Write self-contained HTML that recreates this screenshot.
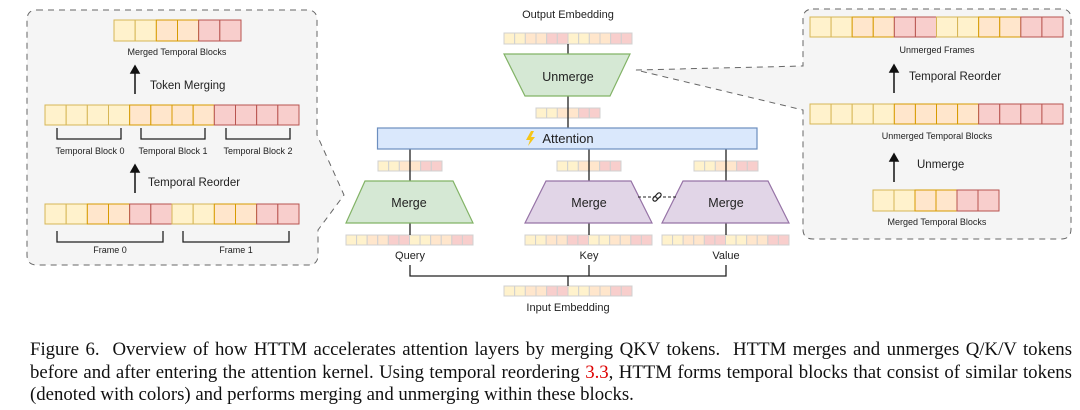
<!DOCTYPE html>
<html><head><meta charset="utf-8">
<style>
html,body{margin:0;padding:0;background:#fff;width:1080px;height:410px;overflow:hidden}
svg{position:absolute;left:0;top:0}
svg text{font-family:"Liberation Sans",sans-serif;fill:#222}
.cap{position:absolute;left:30px;top:339px;width:1042px;font-family:"Liberation Serif",serif;font-size:18.8px;line-height:22.5px;color:#111}
.cap div{text-align:justify;text-align-last:justify;height:22.5px;white-space:nowrap}
.cap div.l{text-align-last:left}
.cap span{color:#d00}
</style></head><body>
<svg id="s" width="1080" height="330" viewBox="0 0 1080 330">
<path d="M37,10 H307 Q317,10 317,20 V135 L344,195 L318,230 V255 Q318,265 308,265 H37 Q27,265 27,255 V20 Q27,10 37,10 Z" fill="#f5f5f5" stroke="#666" stroke-dasharray="6,5" stroke-width="1"/>
<path d="M813,9 H1061 Q1071,9 1071,19 V229 Q1071,239 1061,239 H813 Q803,239 803,229 V110 L636,70 L803,66 V19 Q803,9 813,9 Z" fill="#f5f5f5" stroke="#666" stroke-dasharray="6,5" stroke-width="1"/>
<g id="cells"></g>
<g stroke="#222" stroke-width="1.3" fill="none">
<path d="M57,128 V139 H121 V128 M141,128 V139 H205 V128 M226,128 V139 H290 V128"/>
<path d="M57,231 V242 H163 V231 M183,231 V242 H289 V231"/>
<path d="M568,44 V54 M568,96 V128 M410,149 V181 M589,149 V181 M726,149 V181 M410,223 V235 M589,223 V235 M726,223 V235"/>
<path d="M410,265 V276 H726 V265 M589,265 V276 M568,276 V286"/>
</g>
<g stroke="#111" stroke-width="1.5" fill="#111">
<line x1="135" y1="94" x2="135" y2="72"/><path d="M131,73 L135,66 L139,73 Z"/>
<line x1="135" y1="193" x2="135" y2="171"/><path d="M131,172 L135,165 L139,172 Z"/>
<line x1="894" y1="93" x2="894" y2="71"/><path d="M890,72 L894,65 L898,72 Z"/>
<line x1="894" y1="182" x2="894" y2="160"/><path d="M890,161 L894,154 L898,161 Z"/>
</g>
<path d="M504,54 H630 L610,96 H525 Z" fill="#d5e8d4" stroke="#82b366" stroke-width="1.2"/>
<path d="M365,181 H453 L473,223 H346 Z" fill="#d5e8d4" stroke="#82b366" stroke-width="1.2"/>
<path d="M546,181 H631 L652,223 H525 Z" fill="#e1d5e7" stroke="#9673a6" stroke-width="1.2"/>
<path d="M683,181 H768 L789,223 H662 Z" fill="#e1d5e7" stroke="#9673a6" stroke-width="1.2"/>
<line x1="638" y1="197" x2="677" y2="197" stroke="#222" stroke-dasharray="3,2"/>
<g transform="translate(657,197) rotate(-45)" fill="#fff" stroke="#222" stroke-width="1.2"><rect x="-5" y="-2" width="6" height="4" rx="2"/><rect x="-1" y="-2" width="6" height="4" rx="2"/></g>
<rect x="377.5" y="128" width="379.5" height="21" fill="#dae8fc" stroke="#6c8ebf" stroke-width="1.2"/>
<path d="M531,131 L526,140 H530 L528,146 L535,137 H531 L534,131 Z" fill="#f5c518"/>
<text x="568" y="143" font-size="13" text-anchor="middle">Attention</text>
<text x="568" y="81" font-size="12.5" text-anchor="middle">Unmerge</text>
<text x="409" y="207" font-size="12.5" text-anchor="middle">Merge</text>
<text x="589" y="207" font-size="12.5" text-anchor="middle">Merge</text>
<text x="726" y="207" font-size="12.5" text-anchor="middle">Merge</text>
<g font-size="11" text-anchor="middle">
<text x="568" y="18">Output Embedding</text>
<text x="568" y="311">Input Embedding</text>
<text x="410" y="259">Query</text>
<text x="589" y="259">Key</text>
<text x="726" y="259">Value</text>
</g>
<g font-size="9" text-anchor="middle">
<text x="177" y="55">Merged Temporal Blocks</text>
<text x="90" y="154">Temporal Block 0</text>
<text x="173" y="154">Temporal Block 1</text>
<text x="258" y="154">Temporal Block 2</text>
<text x="110" y="253">Frame 0</text>
<text x="236" y="253">Frame 1</text>
<text x="937" y="53">Unmerged Frames</text>
<text x="937" y="139">Unmerged Temporal Blocks</text>
<text x="937" y="225">Merged Temporal Blocks</text>
</g>
<g font-size="11.5">
<text x="150" y="89">Token Merging</text>
<text x="148" y="186">Temporal Reorder</text>
<text x="909" y="80">Temporal Reorder</text>
<text x="917" y="168">Unmerge</text>
</g>
</svg>
<div class="cap">
<div>Figure 6.&nbsp; Overview of how HTTM accelerates attention layers by merging QKV tokens.&nbsp; HTTM merges and unmerges Q/K/V tokens</div>
<div>before and after entering the attention kernel. Using temporal reordering <span>3.3</span>, HTTM forms temporal blocks that consist of similar tokens</div>
<div class="l">(denoted with colors) and performs merging and unmerging within these blocks.</div>
</div>
<script>
var C={y:["#fff2cc","#d6b656"],o:["#ffe6cc","#d79b00"],r:["#f8cecc","#b85450"]};
var g=document.getElementById("cells"),h="";
function row(x0,x1,y,hh,pat,light){var n=pat.length,w=(x1-x0)/n;for(var i=0;i<n;i++){var c=C[pat[i]];h+='<rect x="'+(x0+i*w)+'" y="'+y+'" width="'+w+'" height="'+hh+'" fill="'+c[0]+'" stroke="'+(light?"#d0d0d0":c[1])+'" stroke-width="1"/>';}}
var fr="yyoorryyoorr",bl="yyyyoooorrrr",m6="yyoorr";
row(114,241,20,21,m6);row(45,299,105,20,bl);row(45,299,204,20,fr);
row(810,1063,17,20,fr);row(810,1063,104,20,bl);row(873,999,190,21,m6);
row(504,632,33,11,fr,1);row(536,600,108,10,m6,1);
row(378,442,161,10,m6,1);row(557,621,161,10,m6,1);row(694,758,161,10,m6,1);
row(346,473,235,10,fr,1);row(525,652,235,10,fr,1);row(662,789,235,10,fr,1);
row(504,632,286,10,fr,1);
g.innerHTML=h;
</script>
</body></html>
